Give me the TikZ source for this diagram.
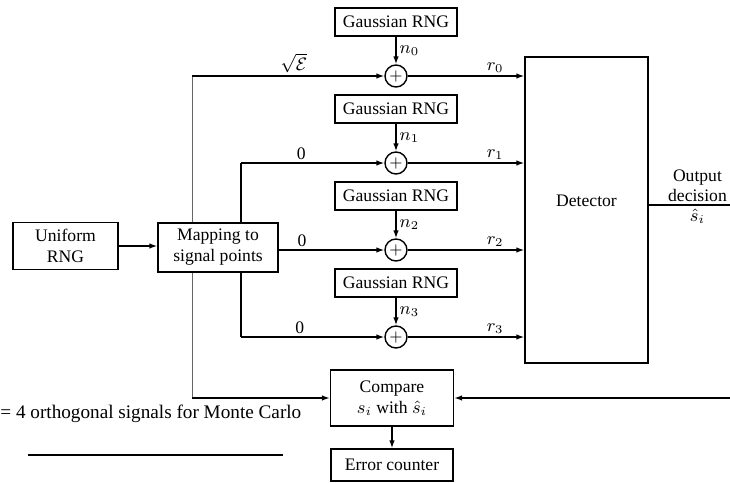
\documentclass[tikz,border=0pt]{standalone}
\usepackage{amsmath,amssymb}
\usepackage{fontspec}
\setmainfont{Liberation Serif}
\usetikzlibrary{arrows.meta,positioning}

\begin{document}
\begin{tikzpicture}[x=0.5pt,y=-0.5pt,
  module/.style={draw=black,line width=0.7pt,fill=white,align=center,
    font=\fontsize{8.8}{10.5}\selectfont,inner sep=1pt},
  flow/.style={-{Latex[length=4pt,width=2.8pt]},line width=0.7pt},
  wire/.style={line width=0.7pt},
  tap/.style={line width=0.5pt,draw=black!60},
  add/.style={circle,draw=black,line width=0.7pt,fill=white,inner sep=0pt,
    minimum size=11pt,font=\fontsize{8}{8}\selectfont},
  lab/.style={font=\fontsize{8.8}{10}\selectfont,inner sep=1.5pt}
]
\useasboundingbox (0,0) rectangle (730,483);
\node[module,minimum width=52.5pt,minimum height=23.5pt] (urng) at (65.5,246)
  {Uniform\\RNG};
\node[module,minimum width=60pt,minimum height=24.5pt] (map) at (218,247.5)
  {Mapping to\\signal points};
\node[module,minimum width=61pt,minimum height=14pt] (g0) at (396,22) {Gaussian RNG};
\node[module,minimum width=61pt,minimum height=14pt] (g1) at (396,109) {Gaussian RNG};
\node[module,minimum width=61pt,minimum height=14pt] (g2) at (396,196) {Gaussian RNG};
\node[module,minimum width=61pt,minimum height=14pt] (g3) at (396,283) {Gaussian RNG};
\node[add] (s0) at (396,76) {$+$};
\node[add] (s1) at (396,163) {$+$};
\node[add] (s2) at (396,250) {$+$};
\node[add] (s3) at (396,337) {$+$};
\node[module,minimum width=61.5pt,minimum height=153pt,text depth=9pt] (det)
  at (586.5,210) {Detector};
\node[module,minimum width=61.5pt,minimum height=28pt] (cmp) at (392,398)
  {Compare\\$s_i$ with $\hat{s}_i$};
\node[module,minimum width=61pt,minimum height=16pt] (err) at (392,465)
  {Error counter};
\node[lab,anchor=west,inner sep=0pt,font=\fontsize{9.6}{12}\selectfont] (cap)
  at (0,414) {= 4 orthogonal signals for Monte Carlo};
\draw[wire] (28,455) -- (283,455);

\coordinate (top) at (192,76);
\coordinate (bot) at (192,398);
\coordinate (up) at (241,163);
\coordinate (down) at (241,337);
\coordinate (out) at (730,205);
\coordinate (back) at (730,398);

\draw[flow] (urng.east) -- (urng.east -| map.west);
\draw[tap] (map.north -| top) -- (top);
\draw[flow] (top) -- node[lab,above,pos=.53] {$\sqrt{\mathcal{E}}$} (s0);
\draw[wire] (map.north -| up) -- (up);
\draw[flow] (up) -- node[lab,above,pos=.42] {0} (s1);
\draw[flow] (map.east |- s2) -- node[lab,above,pos=.22] {0} (s2);
\draw[wire] (map.south -| down) -- (down);
\draw[flow] (down) -- node[lab,above,pos=.41] {0} (s3);
\draw[tap] (map.south -| bot) -- (bot);
\draw[flow] (bot) -- (cmp);

\draw[flow] (g0) -- node[lab,right] {$n_0$} (s0);
\draw[flow] (g1) -- node[lab,right] {$n_1$} (s1);
\draw[flow] (g2) -- node[lab,right] {$n_2$} (s2);
\draw[flow] (g3) -- node[lab,right] {$n_3$} (s3);

\draw[flow] (s0) -- node[lab,above,pos=.75] {$r_0$} (s0 -| det.west);
\draw[flow] (s1) -- node[lab,above,pos=.75] {$r_1$} (s1 -| det.west);
\draw[flow] (s2) -- node[lab,above,pos=.75] {$r_2$} (s2 -| det.west);
\draw[flow] (s3) -- node[lab,above,pos=.75] {$r_3$} (s3 -| det.west);

\draw[wire] (det.east |- out) -- node[lab,above,pos=.6,align=center] {Output\\decision}
  node[lab,below,pos=.6] {$\hat{s}_i$} (out);
\draw[flow] (back) -- (cmp);
\draw[flow] (cmp) -- (err);
\end{tikzpicture}
\end{document}
